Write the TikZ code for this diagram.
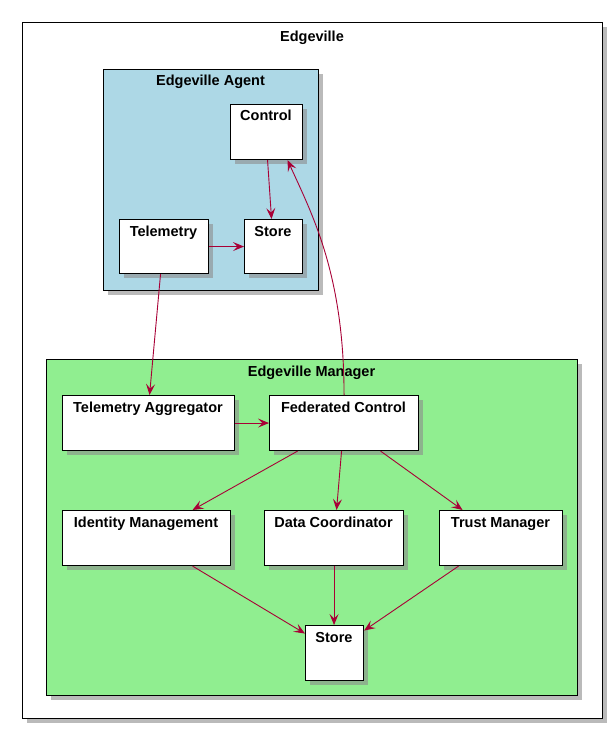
\documentclass[tikz,border=0pt]{standalone}
\usepackage{fontspec}
\setmainfont{Liberation Sans}
\usetikzlibrary{arrows.meta,calc}
\definecolor{arrowred}{HTML}{A80036}
\definecolor{agentblue}{HTML}{ADD8E6}
\definecolor{mgrgreen}{HTML}{90EE90}
\tikzset{
  shadowed/.style={preaction={fill=black!45,opacity=0.6,transform canvas={xshift=4pt,yshift=-4pt}}},
  frame/.style={draw=black,line width=1.3pt,shadowed,inner sep=0pt,anchor=north west},
  comp/.style={draw=black,line width=1.1pt,fill=white,shadowed,inner sep=0pt,anchor=north west},
  ttl/.style={font=\bfseries\fontsize{14.5}{16}\selectfont,anchor=base,inner sep=0pt},
  arr/.style={draw=arrowred,line width=0.9pt,-{Stealth[length=11pt,width=9pt,inset=4.5pt]}}
}
\begin{document}
\begin{tikzpicture}[x=1pt,y=-1pt]
\useasboundingbox (0,0) rectangle (611,730);
% outer package
\node[frame,fill=white,minimum width=580pt,minimum height=696pt] (edge) at (22,22) {};
\node[ttl] (edgeT) at (312,42) {Edgeville};
% agent
\node[frame,fill=agentblue,minimum width=215pt,minimum height=221pt] (agent) at (103,69) {};
\node[ttl] (agentT) at (210.5,86) {Edgeville Agent};
\node[comp,minimum width=72pt,minimum height=55pt] (ctrl) at (230,104) {};
\node[ttl] (ctrlT) at (266,121) {Control};
\node[comp,minimum width=89pt,minimum height=54pt] (tel) at (119,219) {};
\node[ttl] (telT) at (163.5,236) {Telemetry};
\node[comp,minimum width=58pt,minimum height=54pt] (ast) at (244,219) {};
\node[ttl] (astT) at (273,236) {Store};
% manager
\node[frame,fill=mgrgreen,minimum width=531pt,minimum height=336pt] (mgr) at (46,359) {};
\node[ttl] (mgrT) at (311.5,376) {Edgeville Manager};
\node[comp,minimum width=172pt,minimum height=55pt] (ta) at (62,395) {};
\node[ttl] (taT) at (148,412) {Telemetry Aggregator};
\node[comp,minimum width=149pt,minimum height=55pt] (fc) at (269,395) {};
\node[ttl] (fcT) at (343.5,412) {Federated Control};
\node[comp,minimum width=168pt,minimum height=55pt] (im) at (62,510) {};
\node[ttl] (imT) at (146,527) {Identity Management};
\node[comp,minimum width=139pt,minimum height=55pt] (dc) at (264,510) {};
\node[ttl] (dcT) at (333.5,527) {Data Coordinator};
\node[comp,minimum width=123pt,minimum height=55pt] (tm) at (439,510) {};
\node[ttl] (tmT) at (500.5,527) {Trust Manager};
\node[comp,minimum width=58pt,minimum height=55pt] (ms) at (305,625) {};
\node[ttl] (msT) at (334,642) {Store};
% connectors
\draw[arr] ([xshift=1pt]ctrl.south) -- ([xshift=-2pt]ast.north);
\draw[arr] (tel.east) -- (ast.west);
\draw[arr] ([xshift=-3.5pt]tel.south) -- ([xshift=1pt]ta.north);
\draw[arr] (fc.north) .. controls +(0,-120) and +(25,55) .. ([xshift=21pt]ctrl.south);
\draw[arr] (ta.east) -- (fc.west);
\draw[arr] ([xshift=-46.5pt]fc.south) -- ([xshift=46pt]im.north);
\draw[arr] ([xshift=-2.5pt]fc.south) -- ([xshift=2.5pt]dc.north);
\draw[arr] ([xshift=36.5pt]fc.south) -- ([xshift=-38.5pt]tm.north);
\draw[arr] ([xshift=46pt]im.south) -- ([yshift=19.5pt]ms.west);
\draw[arr] (dc.south) -- ([xshift=-0.5pt]ms.north);
\draw[arr] ([xshift=-42.5pt]tm.south) -- ([yshift=22.5pt]ms.east);
\end{tikzpicture}
\end{document}
